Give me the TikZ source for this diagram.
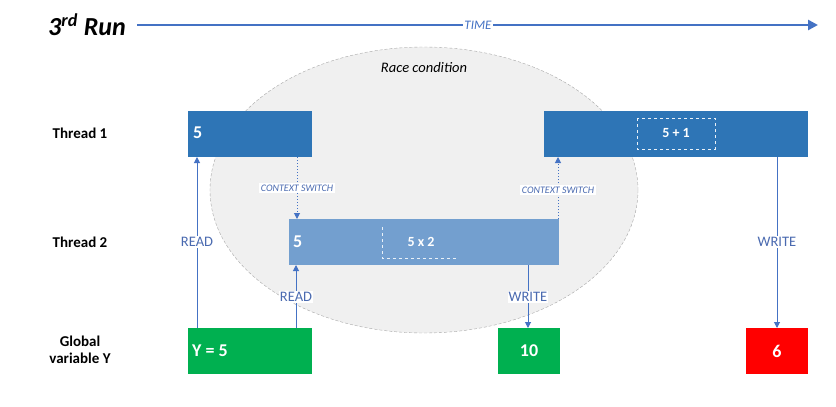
\documentclass[tikz,border=0pt]{standalone}
\usepackage{fontspec}
\setmainfont{Carlito}
\usetikzlibrary{arrows.meta}
\definecolor{tblue}{HTML}{2E75B6}
\definecolor{lblue}{HTML}{739FCF}
\definecolor{ablue}{HTML}{4472C4}
\definecolor{lbltxt}{HTML}{4A6AB0}
\definecolor{ggreen}{HTML}{00B050}
\definecolor{rred}{HTML}{FF0000}
\definecolor{ellfill}{HTML}{F0F0F0}
\tikzset{
  boxbase/.style={draw=none, inner sep=0pt, text=white, font=\bfseries},
  rowlabel/.style={font=\bfseries\fontsize{15}{17}\selectfont, align=center},
  conn/.style={draw=ablue, line width=1pt, -{Triangle[length=6pt,width=6pt]}},
  ctx/.style={draw=ablue, line width=1pt, dotted, -{Triangle[length=6pt,width=6pt]}},
  lbl/.style={fill=white, text=lbltxt, inner sep=1pt, font=\fontsize{14.5}{16}\selectfont},
  ctxlbl/.style={fill=white, text=lbltxt, inner sep=2pt, font=\itshape\fontsize{10}{12}\selectfont},
  inner/.style={draw=white!85!lblue, dashed, line width=0.6pt}
}
\begin{document}
\begin{tikzpicture}[x=1pt,y=-1pt]
\useasboundingbox (0,0) rectangle (836,407);
% race condition ellipse
\fill[ellfill] (424,190) ellipse [x radius=214, y radius=143];
\draw[gray!70, densely dashed, line width=0.4pt] (424,190) ellipse [x radius=214, y radius=143];
\node[font=\itshape\fontsize{14.5}{16}\selectfont] (race) at (424,68) {Race condition};

% title and time axis
\node[anchor=west, font=\bfseries\itshape\fontsize{26}{28}\selectfont, inner sep=0pt] (title) at (48,25) {3\textsuperscript{rd} Run};
\coordinate (tstart) at (137,25);
\coordinate (tend) at (818,25);
\draw[ablue, line width=2.6pt, -{Triangle[length=10pt,width=10pt]}] (tstart) -- (tend);
\node[fill=white, text=ablue, inner sep=1pt, font=\itshape\fontsize{13}{15}\selectfont] (time) at (478,25) {TIME};

% row labels
\node[rowlabel] (th1lbl) at (80,133) {Thread 1};
\node[rowlabel] (th2lbl) at (80,242) {Thread 2};
\node[rowlabel] (glbl) at (80,350) {Global\\variable Y};

% thread 1 boxes
\fill[tblue] (188,111) rectangle (312,157);
\coordinate (t1a) at (250,134);
\node[boxbase, anchor=west, font=\bfseries\fontsize{18}{20}\selectfont] (t1aval) at (193,133) {5};
\fill[tblue] (544,111) rectangle (808,157);
\coordinate (t1b) at (676,134);
\draw[inner] (637,118) rectangle (715,149);
\node[boxbase, font=\bfseries\fontsize{14}{16}\selectfont] (t1bval) at (676,133) {5 + 1};

% thread 2 box
\fill[lblue] (289,219) rectangle (559,265);
\draw[inner] (382,227) -- (382,258) -- (458,258);
\node[boxbase, anchor=west, font=\bfseries\fontsize{18}{20}\selectfont] (t2val) at (293,242) {5};
\node[boxbase, font=\bfseries\fontsize{14}{16}\selectfont] (t2op) at (421,242) {5 x 2};

% global variable boxes
\fill[ggreen] (188,328) rectangle (312,374);
\node[boxbase, anchor=west, font=\bfseries\fontsize{18}{20}\selectfont] (y5) at (192,351) {Y = 5};
\fill[ggreen] (498,328) rectangle (560,374);
\node[boxbase, font=\bfseries\fontsize{18}{20}\selectfont] (y10) at (529,351) {10};
\fill[rred] (746,328) rectangle (808,374);
\node[boxbase, font=\bfseries\fontsize{18}{20}\selectfont] (y6) at (777,351) {6};

% connector end points
\coordinate (r1s) at (197,328); \coordinate (r1e) at (197,157);
\coordinate (r2s) at (296,328); \coordinate (r2e) at (296,265);
\coordinate (c1s) at (297,157); \coordinate (c1e) at (297,219);
\coordinate (c2s) at (558,219); \coordinate (c2e) at (558,157);
\coordinate (w1s) at (528,265); \coordinate (w1e) at (528,328);
\coordinate (w2s) at (777,157); \coordinate (w2e) at (777,328);

\draw[conn] (r1s) -- (r1e);
\node[lbl] (read1) at (197,242) {READ};
\draw[conn] (r2s) -- (r2e);
\node[lbl] (read2) at (296,297) {READ};
\draw[ctx] (c1s) -- (c1e);
\node[ctxlbl] (ctx1) at (297,188) {CONTEXT SWITCH};
\draw[ctx] (c2s) -- (c2e);
\node[ctxlbl] (ctx2) at (558,190) {CONTEXT SWITCH};
\draw[conn] (w1s) -- (w1e);
\node[lbl] (write1) at (528,297) {WRITE};
\draw[conn] (w2s) -- (w2e);
\node[lbl] (write2) at (777,242) {WRITE};
\end{tikzpicture}
\end{document}
